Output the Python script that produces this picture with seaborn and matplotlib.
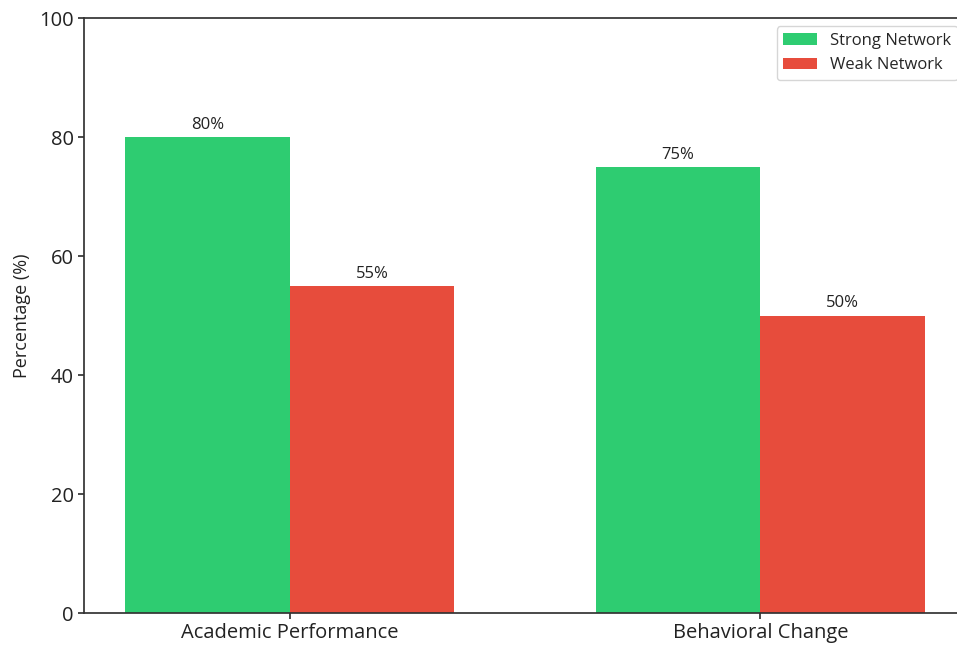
import pandas as pd
import matplotlib.pyplot as plt
import seaborn as sns

sns.set_theme(style="white")
plt.rcParams['font.family'] = ['Open Sans', 'DejaVu Sans']

categories = ['Academic Performance', 'Behavioral Change']
networks = ['Strong Network', 'Weak Network']
strong_values = [80, 75]
weak_values = [55, 50]
colors = ['#2ecc71', '#e74c3c']

df = pd.DataFrame({
    'Category': categories * 2,
    'Network': [networks[0]] * 2 + [networks[1]] * 2,
    'Value': strong_values + weak_values,
})

fig = plt.figure(figsize=(9.57, 6.45), dpi=100)
ax = fig.add_axes([0.0878, 0.0496, 0.9216, 0.9224])

sns.barplot(data=df, x='Category', y='Value', hue='Network', palette=colors,
            width=0.7, gap=0, saturation=1, linewidth=0, ax=ax)

for container in ax.containers:
    ax.bar_label(container, labels=[f'{v:.0f}%' for v in container.datavalues],
                 padding=3, fontsize=12, color='#222222')

ax.set_ylim(0, 100)
ax.set_xlim(-0.437, 1.437)
ax.set_xlabel('')
ax.set_ylabel('Percentage (%)', fontsize=13, color='#222222', labelpad=6)
ax.tick_params(axis='both', labelsize=14.5, left=True, bottom=True, length=4,
               color='#333333', labelcolor='#222222')
for s in ax.spines.values():
    s.set_color('#333333')
ax.legend(loc='upper right', fontsize=12, frameon=True)

fig.savefig('out.png', dpi=100)
